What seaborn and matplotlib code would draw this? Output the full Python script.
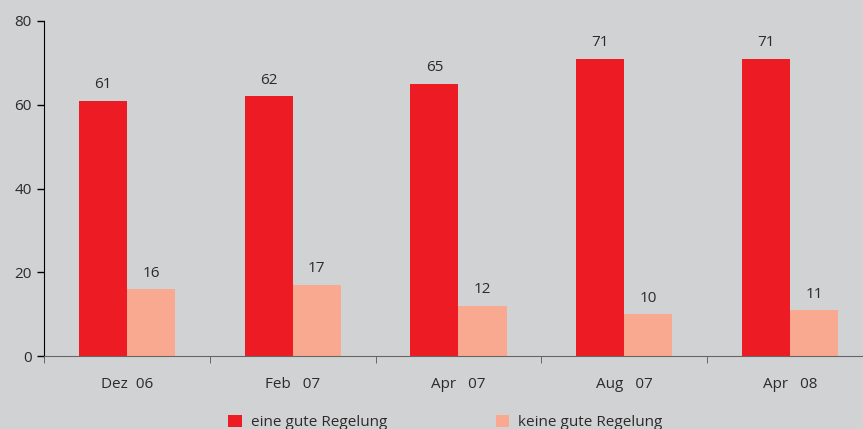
import pandas as pd
import numpy as np
import matplotlib.pyplot as plt
import seaborn as sns

# Data
zeitpunkte = ["Dez  06", "Feb   07", "Apr   07", "Aug   07", "Apr   08"]
gute_regelung = [61, 62, 65, 71, 71]
keine_gute_regelung = [16, 17, 12, 10, 11]
serien = ["eine gute Regelung", "keine gute Regelung"]

df = pd.DataFrame({
    "zeit": zeitpunkte * 2,
    "wert": gute_regelung + keine_gute_regelung,
    "serie": [serien[0]] * 5 + [serien[1]] * 5,
})

bg = "#d1d2d4"
farben = {serien[0]: "#ed1c24", serien[1]: "#f9a98f"}
textfarbe = "#2b2b2b"

sns.set_style("white")
plt.rcParams["font.family"] = ["Open Sans", "DejaVu Sans"]

fig = plt.figure(figsize=(8.63, 4.29), dpi=100, facecolor=bg)
ax = fig.add_axes([44/863, 73/429, 819/863, 335/429])
ax.set_facecolor(bg)

sns.barplot(data=df, x="zeit", y="wert", hue="serie", palette=farben,
            width=0.58, saturation=1, linewidth=0, ax=ax, legend=True)

for cont in ax.containers:
    ax.bar_label(cont, padding=6, fontsize=11, color=textfarbe)

ax.set_yticks([0, 20, 40, 60, 80])
ax.set_ylim(0, 80)
ax.set_xlabel("")
ax.set_ylabel("")
ax.tick_params(axis="y", length=5, width=1, color="black", labelsize=11,
               labelcolor=textfarbe, left=True, pad=4)
ax.tick_params(axis="x", length=0, labelsize=11, labelcolor=textfarbe, pad=15)
ax.set_xticks(np.arange(-0.5, 4.0, 1), minor=True)
ax.tick_params(axis="x", which="minor", length=5, color="#555555", bottom=True)
ax.set_xlim(-0.5, 4.44)

for s in ["top", "right"]:
    ax.spines[s].set_visible(False)
ax.spines["left"].set_color("black")
ax.spines["bottom"].set_color("#666666")

handles, labels = ax.get_legend_handles_labels()
ax.legend_.remove()
fig.legend(handles, labels, loc="lower left", bbox_to_anchor=(214/863, -0.035),
           ncol=2, frameon=False, fontsize=11, labelcolor=textfarbe,
           handlelength=0.9, handleheight=0.9, handletextpad=0.6,
           columnspacing=7.1)

fig.savefig("out.png", dpi=100, facecolor=bg)
